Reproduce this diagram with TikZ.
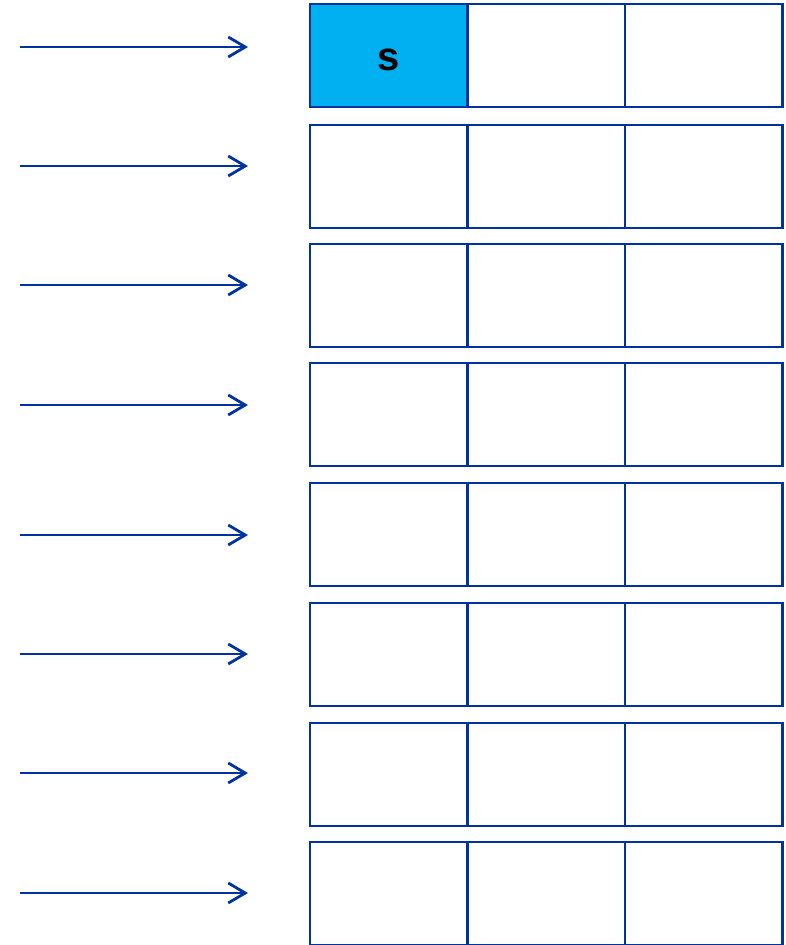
\documentclass[tikz,border=0pt]{standalone}
\usepackage{fontspec}
\newfontfamily\monofont{Liberation Mono}
\usetikzlibrary{arrows.meta}
\definecolor{lineblue}{HTML}{0033A0}
\definecolor{cellcyan}{HTML}{00B0F0}
\begin{document}
\begin{tikzpicture}[x=1pt,y=-1pt,
  cell/.style={draw=lineblue,line width=2.8pt,minimum width=157.5pt,minimum height=103pt,inner sep=0pt,outer sep=0pt,anchor=north west,fill=white},
  ptr/.style={draw=lineblue,line width=2.8pt,-{Straight Barb[length=17pt,width=20pt,line width=2.8pt]}}]
\useasboundingbox (0,0) rectangle (785,945);
\foreach \r/\top/\ay in {1/4/47,2/125/166,3/244/285,4/363/405,5/483/535,6/603/654,7/723/773,8/842/893}{
  \node[cell] (c\r a) at (310,\top) {};
  \node[cell] (c\r b) at (467.5,\top) {};
  \node[cell] (c\r c) at (625,\top) {};
  \coordinate (s\r) at (20,\ay);
  \coordinate (e\r) at (248,\ay);
  \draw[ptr] (s\r) -- (e\r);
}
\node[cell,fill=cellcyan] (c1a) at (310,4) {};
\node[font=\monofont\bfseries\fontsize{40}{40}\selectfont,inner sep=0pt] (lbl) at ([yshift=-4pt]c1a.center) {s};
\end{tikzpicture}
\end{document}
